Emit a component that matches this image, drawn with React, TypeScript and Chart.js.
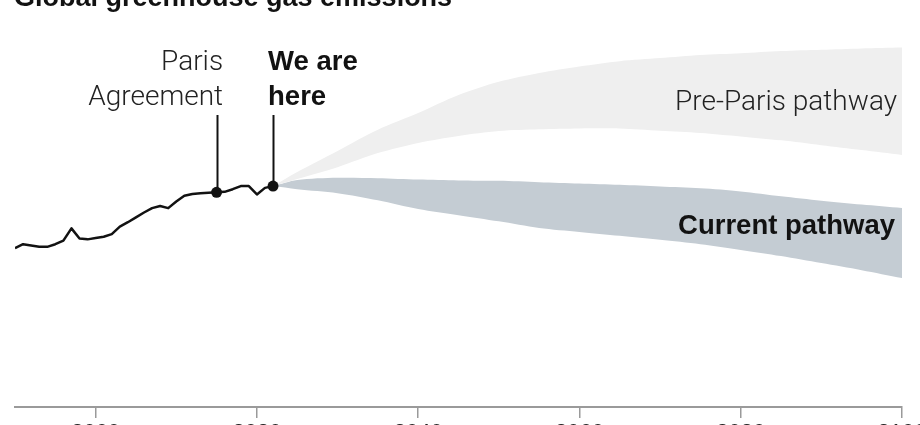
import React, { useEffect, useRef } from "react";
import { Chart, registerables } from "chart.js";

Chart.register(...registerables);

// ---------- data ----------
const titleText = "Global greenhouse gas emissions";

const historyYears = [
  1990, 1991, 1992, 1993, 1994, 1995, 1996, 1997, 1998, 1999, 2000, 2001, 2002,
  2003, 2004, 2005, 2006, 2007, 2008, 2009, 2010, 2011, 2012, 2013, 2014, 2015,
  2016, 2017, 2018, 2019, 2020, 2021, 2022,
];
const historyValues = [
  36.1, 37.0, 36.7, 36.4, 36.4, 37.0, 37.8, 40.6, 38.3, 38.1, 38.4, 38.7, 39.3,
  41.0, 42.0, 43.1, 44.2, 45.2, 45.7, 45.2, 46.7, 48.0, 48.4, 48.6, 48.7, 48.8,
  48.9, 49.5, 50.2, 50.2, 48.3, 49.8, 50.2,
];

const projectionYears = [
  2022, 2025, 2030, 2035, 2040, 2045, 2050, 2055, 2060, 2065, 2070, 2075, 2080,
  2085, 2090, 2095, 2100,
];
const preParisHigh = [
  50.2, 53.4, 58.2, 63.0, 66.8, 70.9, 73.9, 75.9, 77.4, 78.6, 79.3, 80.0, 80.4,
  80.9, 81.2, 81.5, 81.7,
];
const preParisLow = [
  50.2, 51.8, 54.5, 57.7, 60.0, 61.6, 62.7, 63.1, 63.3, 63.3, 62.8, 62.3, 61.5,
  60.6, 59.5, 58.4, 57.3,
];
const currentHigh = [
  50.2, 51.6, 52.1, 52.0, 51.7, 51.5, 51.4, 51.1, 50.8, 50.5, 50.1, 49.7, 49.0,
  47.9, 46.9, 46.0, 45.2,
];
const currentLow = [
  50.2, 49.5, 48.6, 47.0, 45.0, 43.6, 42.2, 40.7, 39.8, 38.9, 38.0, 37.0, 35.7,
  34.3, 32.7, 31.1, 29.3,
];

const markerYears = [2015, 2022];
const markerLabels = [
  ["Paris", "Agreement"],
  ["We are", "here"],
];
const bandLabels = ["Pre-Paris pathway", "Current pathway"];
const tickYears = [2000, 2020, 2040, 2060, 2080, 2100];

// ---------- layout ----------
const W = 920;
const H = 477;
const OFF = 30; // canvas starts 30px above the page top

const LIGHT = "300 28px Roboto, 'Liberation Sans', sans-serif";
const BOLD = "bold 27.5px 'Liberation Sans', Arial, sans-serif";

const markerValues = markerYears.map((yr) => historyValues[historyYears.indexOf(yr)]);

const pts = (xs: number[], ys: number[]) => xs.map((x, i) => ({ x, y: ys[i] }));

const annotations = {
  id: "annotations",
  beforeDatasetsDraw(chart: any) {
    const { ctx, scales } = chart;
    ctx.save();
    ctx.strokeStyle = "#121212";
    ctx.lineWidth = 2;
    markerYears.forEach((yr, i) => {
      const px = Math.round(scales.x.getPixelForValue(yr)) + 0.5;
      const py = scales.y.getPixelForValue(markerValues[i]);
      ctx.beginPath();
      ctx.moveTo(px, 115 + OFF);
      ctx.lineTo(px, py);
      ctx.stroke();
    });
    ctx.restore();
  },
  afterDraw(chart: any) {
    const { ctx, scales, chartArea } = chart;
    ctx.save();
    ctx.textBaseline = "alphabetic";
    // title
    ctx.fillStyle = "#121212";
    ctx.font = "bold 27px 'Liberation Sans', Arial, sans-serif";
    ctx.textAlign = "left";
    ctx.fillText(titleText, 14, 6 + OFF);

    // marker labels
    const px0 = scales.x.getPixelForValue(markerYears[0]);
    ctx.font = LIGHT;
    ctx.fillStyle = "#222";
    ctx.textAlign = "right";
    ctx.fillText(markerLabels[0][0], px0 + 6.5, 70 + OFF);
    ctx.fillText(markerLabels[0][1], px0 + 6.5, 105 + OFF);

    const px1 = scales.x.getPixelForValue(markerYears[1]);
    ctx.font = BOLD;
    ctx.fillStyle = "#121212";
    ctx.textAlign = "left";
    ctx.fillText(markerLabels[1][0], px1 - 5, 70 + OFF);
    ctx.fillText(markerLabels[1][1], px1 - 5, 105 + OFF);

    // band labels
    ctx.textAlign = "right";
    ctx.font = LIGHT;
    ctx.fillStyle = "#222";
    ctx.fillText(bandLabels[0], chartArea.right - 5, 110 + OFF);
    ctx.font = BOLD;
    ctx.fillStyle = "#121212";
    ctx.fillText(bandLabels[1], chartArea.right - 7, 234 + OFF);
    ctx.restore();
  },
};

export default function App() {
  const ref = useRef<HTMLCanvasElement | null>(null);

  useEffect(() => {
    document.body.style.margin = "0";
    document.body.style.overflow = "hidden";
    const canvas = ref.current;
    if (!canvas) return;
    const chart = new Chart(canvas, {
      type: "line",
      data: {
        datasets: [
          {
            data: pts(historyYears, historyValues),
            borderColor: "#121212",
            borderWidth: 2.5,
            pointRadius: 0,
            tension: 0,
            fill: false,
            borderJoinStyle: "round",
          },
          {
            data: pts(markerYears, markerValues),
            showLine: false,
            pointRadius: 5.5,
            pointBackgroundColor: "#121212",
            pointBorderWidth: 0,
            borderColor: "transparent",
            fill: false,
          },
          {
            data: pts(projectionYears, preParisHigh),
            borderColor: "transparent",
            borderWidth: 0,
            pointRadius: 0,
            backgroundColor: "#efefef",
            fill: "+1",
            tension: 0.3,
          },
          {
            data: pts(projectionYears, preParisLow),
            borderColor: "transparent",
            borderWidth: 0,
            pointRadius: 0,
            fill: false,
            tension: 0.3,
          },
          {
            data: pts(projectionYears, currentHigh),
            borderColor: "transparent",
            borderWidth: 0,
            pointRadius: 0,
            backgroundColor: "#c4ccd3",
            fill: "+1",
            tension: 0.3,
          },
          {
            data: pts(projectionYears, currentLow),
            borderColor: "transparent",
            borderWidth: 0,
            pointRadius: 0,
            fill: false,
            tension: 0.3,
          },
        ],
      },
      options: {
        animation: false,
        responsive: false,
        devicePixelRatio: 1,
        layout: { padding: { top: 41, left: 15, right: 18, bottom: 0 } },
        plugins: {
          legend: { display: false },
          tooltip: { enabled: false },
          title: { display: false },
        },
        scales: {
          x: {
            type: "linear",
            min: 1990,
            max: 2100,
            border: { display: true, color: "#9a9a9a", width: 2 },
            grid: {
              drawOnChartArea: false,
              drawTicks: true,
              tickLength: 11,
              color: "#9a9a9a",
              lineWidth: 1.5,
            },
            ticks: {
              color: "#222",
              padding: 2,
              maxRotation: 0,
              autoSkip: false,
              font: { size: 22, family: "'Liberation Sans', Arial, sans-serif" },
              callback: (v: any) => String(v),
            },
            afterBuildTicks: (scale: any) => {
              scale.ticks = tickYears.map((v) => ({ value: v }));
            },
            afterFit: (scale: any) => {
              scale.height = 40;
              scale.paddingLeft = 0;
              scale.paddingRight = 0;
            },
          },
          y: {
            type: "linear",
            min: 0,
            max: 90,
            display: false,
          },
        },
      },
      plugins: [annotations],
    });
    return () => chart.destroy();
  }, []);

  return (
    <div style={{ position: "fixed", left: 0, top: -OFF, width: W, height: H }}>
      <canvas ref={ref} width={W} height={H} style={{ width: W, height: H, display: "block" }} />
    </div>
  );
}
